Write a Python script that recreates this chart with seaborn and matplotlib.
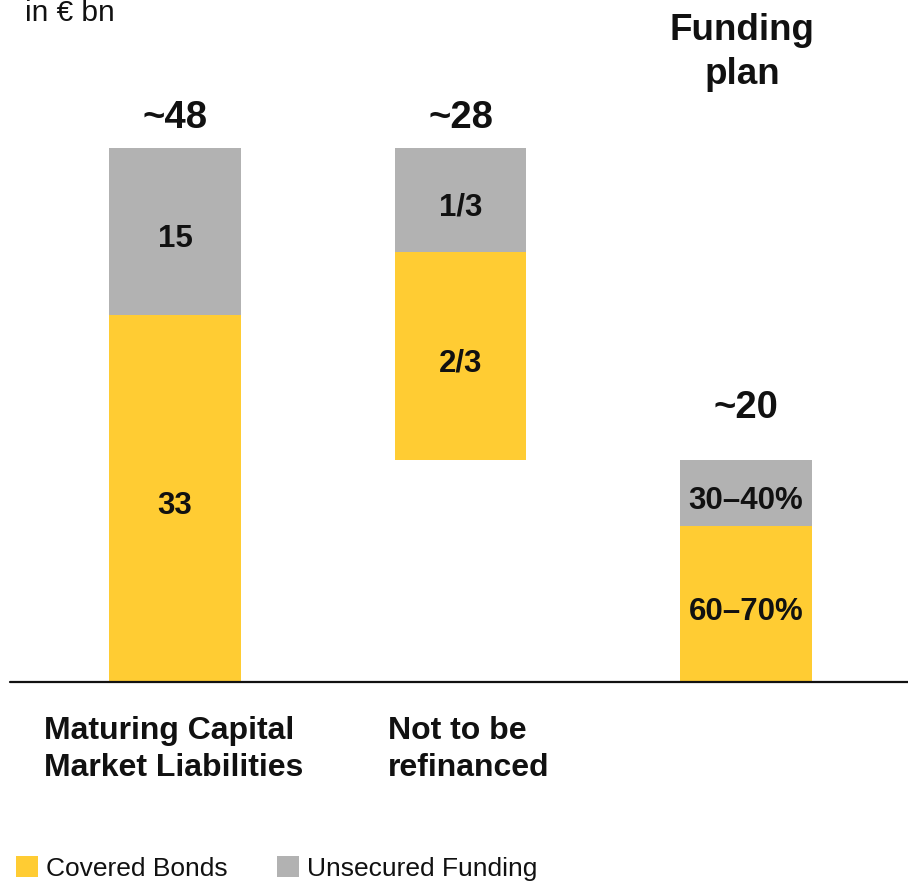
import matplotlib
matplotlib.use("Agg")
import matplotlib.pyplot as plt
from matplotlib.patches import Patch
import numpy as np
import pandas as pd
import seaborn as sns

# --- data (EUR bn) ---
categories = ["Maturing Capital\nMarket Liabilities", "Not to be\nrefinanced", "Funding\nplan"]
base = [0, 20, 0]                 # floating start of each column
covered = [33, 18.67, 14]         # covered bonds part
unsecured = [15, 9.33, 6]         # unsecured funding part
totals_lbl = ["~48", "~28", "~20"]
covered_lbl = ["33", "2/3", "60\u201370%"]
unsecured_lbl = ["15", "1/3", "30\u201340%"]
legend_labels = ["Covered Bonds", "Unsecured Funding"]

YELLOW = "#FFCC33"
GREY = "#B2B2B2"
INK = "#111111"

sns.set_theme(style="white")
plt.rcParams["font.family"] = ["Liberation Sans", "DejaVu Sans"]

W, H, DPI = 908, 882, 100
PT = 72 / DPI  # points per pixel
fig = plt.figure(figsize=(W / DPI, H / DPI), dpi=DPI)
ax = fig.add_axes([0, 0, 1, 1])

df = pd.DataFrame({
    "cat": categories,
    "base": base,
    "covered": covered,
    "unsecured": unsecured,
})
df["split"] = df["base"] + df["covered"]
df["top"] = df["split"] + df["unsecured"]

bw = 0.462
sns.barplot(data=df, x="cat", y="covered", bottom=df["base"].to_numpy(),
            color=YELLOW, saturation=1, width=bw, linewidth=0, ax=ax)
sns.barplot(data=df, x="cat", y="unsecured", bottom=df["split"].to_numpy(),
            color=GREY, saturation=1, width=bw, linewidth=0, ax=ax)

# frame: baseline at y=682 px, 11.125 px per bn
px_per_unit = 11.125
base_px = 682
ax.set_ylim(-(H - base_px) / px_per_unit, base_px / px_per_unit)
x_unit = 285.5
ax.set_xlim(-175 / x_unit, (W - 175) / x_unit)
ax.axis("off")

# baseline
ax.axhline(0, xmin=10 / W, xmax=1, color=INK, lw=1.6, zorder=3)

# segment labels: baseline placed so the digits sit just below the segment middle
seg_fs = 22.5
seg_drop = -(11 + 5) * PT
for i, row in df.iterrows():
    ax.annotate(covered_lbl[i], xy=(i, row["base"] + row["covered"] / 2),
                xytext=(0, seg_drop), textcoords="offset points", ha="center",
                va="baseline", fontsize=seg_fs, fontweight="bold", color=INK)
    ax.annotate(unsecured_lbl[i], xy=(i, row["split"] + row["unsecured"] / 2),
                xytext=(0, seg_drop), textcoords="offset points", ha="center",
                va="baseline", fontsize=seg_fs, fontweight="bold", color=INK)

# totals above the columns
tot_offsets = [33 - 13, 33 - 13, 54 - 13]  # px from bar top to text baseline
for i, row in df.iterrows():
    ax.annotate(totals_lbl[i], xy=(i, row["top"]), xytext=(0, tot_offsets[i] * PT),
                textcoords="offset points", ha="center", va="baseline",
                fontsize=27.5, fontweight="bold", color=INK)


def fx(px):
    return px / W


def fy(py):
    return 1 - py / H


# category captions
fig.text(fx(44), fy(776), categories[0], ha="left", va="baseline", fontsize=23,
         fontweight="bold", color=INK, linespacing=1.32)
fig.text(fx(388), fy(776), categories[1], ha="left", va="baseline", fontsize=23,
         fontweight="bold", color=INK, linespacing=1.32)
fig.text(fx(742), fy(84), categories[2], ha="center", va="baseline", fontsize=26.5,
         fontweight="bold", color=INK, linespacing=1.34)

fig.text(fx(25), fy(21), "in \u20ac bn", ha="left", va="baseline", fontsize=21.5,
         color=INK)

handles = [Patch(facecolor=YELLOW, edgecolor="none"), Patch(facecolor=GREY, edgecolor="none")]
fig.legend(handles, legend_labels, loc="lower left", bbox_to_anchor=(fx(16), fy(881)),
           ncol=2, frameon=False, fontsize=19, handlelength=0.85, handleheight=0.85,
           handletextpad=0.3, columnspacing=1.85, borderpad=0, borderaxespad=0,
           labelcolor=INK)

fig.savefig("out.png", dpi=DPI)
